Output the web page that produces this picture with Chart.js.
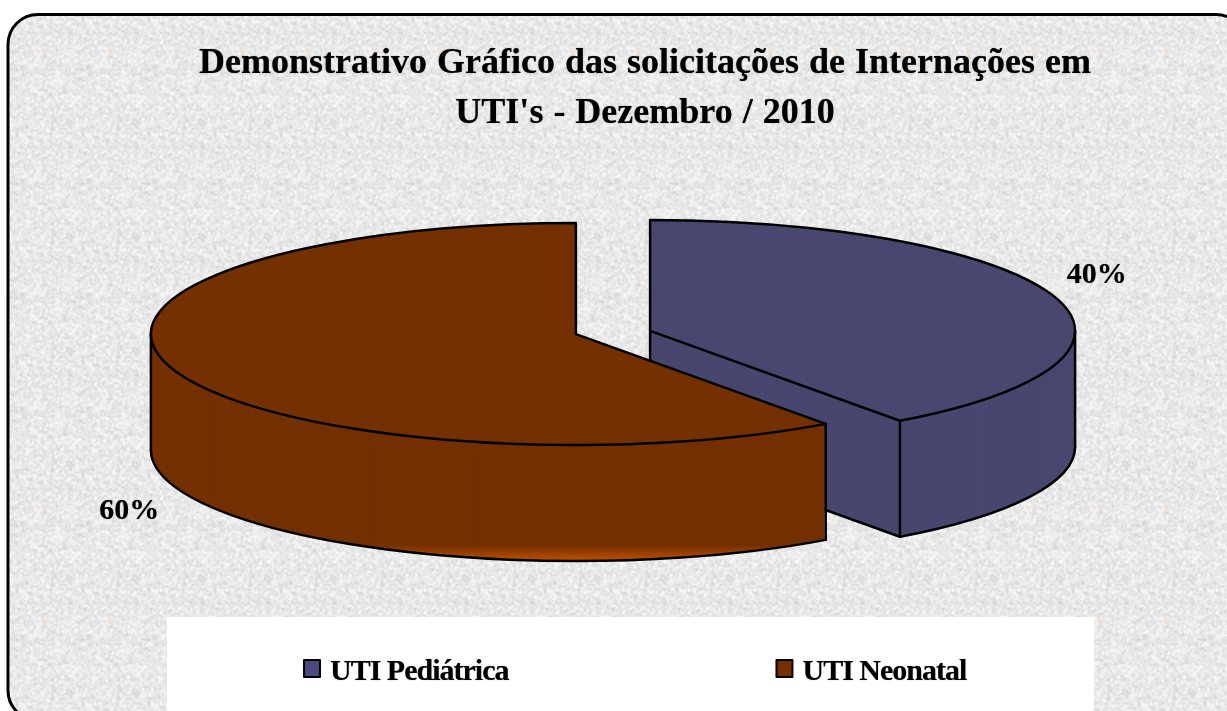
<!DOCTYPE html>
<html>
<head>
<meta charset="utf-8">
<title>UTI</title>
<style>
  html, body { margin: 0; padding: 0; background: #fff; overflow: hidden; }
  canvas { display: block; }
</style>
<script src="https://cdn.jsdelivr.net/npm/chart.js@4"></script>
</head>
<body>
<canvas id="grafico" width="1227" height="711"></canvas>
<script>
const categorias = ["UTI Pediátrica", "UTI Neonatal"];
const valores = [40, 60];
const cores = ["#47476f", "#743000"];
const coresLegenda = ["#4a4a80", "#743000"];
const titulo = ["Demonstrativo Gráfico das solicitações de Internações em", "UTI's - Dezembro / 2010"];

// projecao da pizza "3D"
const CX = 613, CY = 332.5, RX = 425, RY = 111, ALTURA = 116, EXPLODE = 39, EXPLODE_Y = 0.5;
const FONTE = "'Liberation Serif', 'Times New Roman', serif";

// textura de fundo (ladrilho 66x114 com uma marquinha bege)
function criarTextura(ctx) {
  const w = 66, h = 114;
  let seed = 20101;
  const rnd = () => {
    seed = (seed + 0x6D2B79F5) | 0;
    let t = Math.imul(seed ^ (seed >>> 15), 1 | seed);
    t = (t + Math.imul(t ^ (t >>> 7), 61 | t)) ^ t;
    return ((t ^ (t >>> 14)) >>> 0) / 4294967296;
  };
  const ruido = [];
  for (let i = 0; i < w * h; i++) ruido.push(rnd());
  const tile = document.createElement("canvas");
  tile.width = w; tile.height = h;
  const t = tile.getContext("2d");
  const img = t.createImageData(w, h);
  for (let y = 0; y < h; y++) {
    for (let x = 0; x < w; x++) {
      let s = 0;
      for (let dy = -1; dy <= 1; dy++) {
        for (let dx = -1; dx <= 1; dx++) {
          s += ruido[((y + dy + h) % h) * w + ((x + dx + w) % w)];
        }
      }
      const g = Math.max(215, Math.min(246, 233 + (s / 9 - 0.5) * 70));
      const p = (y * w + x) * 4;
      img.data[p] = img.data[p + 1] = img.data[p + 2] = g;
      img.data[p + 3] = 255;
    }
  }
  t.putImageData(img, 0, 0);
  t.fillStyle = "rgba(238,226,212,0.4)";
  t.fillRect(42, 46, 3, 13);
  t.fillRect(38, 50, 10, 3);
  return ctx.createPattern(tile, "repeat");
}

function moverFatia(ctx, el, prof) {
  const meio = (el.startAngle + el.endAngle) / 2;
  ctx.translate(CX + Math.cos(meio) * EXPLODE, CY + Math.sin(meio) * EXPLODE * EXPLODE_Y * RY / RX + prof);
  ctx.scale(RX / el.outerRadius, RY / el.outerRadius);
  ctx.translate(-el.x, -el.y);
}

function ponto(el, ang, raio, prof) {
  const meio = (el.startAngle + el.endAngle) / 2;
  return {
    x: CX + Math.cos(meio) * EXPLODE + Math.cos(ang) * RX * raio,
    y: CY + Math.sin(meio) * EXPLODE * EXPLODE_Y * RY / RX + Math.sin(ang) * RY * raio + prof
  };
}

function linha(ctx, a, b) {
  ctx.beginPath();
  ctx.moveTo(a.x, a.y);
  ctx.lineTo(b.x, b.y);
  ctx.stroke();
}

function contorno(ctx, el) {
  const ini = el.startAngle, fim = el.endAngle;
  ctx.strokeStyle = "#000";
  ctx.lineWidth = 2.5;
  ctx.lineJoin = "round";
  ctx.lineCap = "round";

  // face cortada visivel
  if (Math.cos(fim) > 1e-6) {
    linha(ctx, ponto(el, fim, 0, 0), ponto(el, fim, 0, ALTURA));
    linha(ctx, ponto(el, fim, 0, ALTURA), ponto(el, fim, 1, ALTURA));
  }

  // parede externa
  const a0 = Math.max(ini, 0), a1 = Math.min(fim, Math.PI);
  ctx.save();
  moverFatia(ctx, el, ALTURA);
  ctx.beginPath();
  ctx.arc(el.x, el.y, el.outerRadius, a0, a1);
  ctx.restore();
  ctx.stroke();
  linha(ctx, ponto(el, a0, 1, 0), ponto(el, a0, 1, ALTURA));
  linha(ctx, ponto(el, a1, 1, 0), ponto(el, a1, 1, ALTURA));

  // tampo
  ctx.save();
  moverFatia(ctx, el, 0);
  ctx.beginPath();
  ctx.moveTo(el.x, el.y);
  ctx.arc(el.x, el.y, el.outerRadius, ini, fim);
  ctx.closePath();
  ctx.restore();
  ctx.stroke();
}

function brilhoBase(ctx, el) {
  ctx.save();
  ctx.save();
  moverFatia(ctx, el, ALTURA);
  ctx.beginPath();
  ctx.moveTo(el.x, el.y);
  ctx.arc(el.x, el.y, el.outerRadius, el.startAngle, el.endAngle);
  ctx.closePath();
  ctx.restore();
  ctx.clip();
  const grad = ctx.createLinearGradient(0, 545, 0, 561);
  grad.addColorStop(0, "rgba(190,80,0,0)");
  grad.addColorStop(1, "rgba(190,80,0,1)");
  ctx.fillStyle = grad;
  ctx.fillRect(0, 545, 1227, 20);
  ctx.restore();
}

function textoForte(ctx) {
  ctx.shadowColor = "rgba(0,0,0,0.55)";
  ctx.shadowBlur = 1;
}

const pizza3d = {
  id: "pizza3d",
  beforeLayout(chart) {
    if (chart.$ajustado) return;
    chart.$ajustado = true;
    const ctx = chart.ctx;
    const legenda = chart.legend, bloco = chart.titleBlock;

    const fit = legenda.fit;
    legenda.fit = function () {
      ctx.letterSpacing = "-1px";
      fit.call(this);
      ctx.letterSpacing = "0px";
      this.height = 40;
    };
    const drawLegenda = legenda.draw;
    legenda.draw = function () {
      ctx.save();
      ctx.letterSpacing = "-1px";
      textoForte(ctx);
      drawLegenda.call(this);
      ctx.restore();
    };
    const drawTitulo = bloco.draw;
    bloco.draw = function () {
      ctx.save();
      ctx.wordSpacing = "1px";
      textoForte(ctx);
      drawTitulo.call(this);
      ctx.restore();
    };
  },
  afterLayout(chart) {
    const legenda = chart.legend, bloco = chart.titleBlock;
    const pad = legenda.options.labels.padding;
    legenda.left = 303 - pad;
    legenda.right = 1400;
    legenda.top = 657 - pad;
    bloco.left = 32;
    bloco.right = 1258;
    bloco.top = 39;
    bloco.bottom = bloco.top + bloco.height;
  },
  beforeDraw(chart) {
    const ctx = chart.ctx;
    if (!chart.$textura) chart.$textura = criarTextura(ctx);
    ctx.save();
    ctx.fillStyle = "#fff";
    ctx.fillRect(0, 0, chart.width, chart.height);
    ctx.beginPath();
    ctx.roundRect(8, 14.5, 1238, 706, 30);
    ctx.fillStyle = chart.$textura;
    ctx.fill();
    ctx.fillStyle = "#fff";
    ctx.fillRect(167, 617, 927, 94);
    ctx.strokeStyle = "#000";
    ctx.lineWidth = 3;
    ctx.stroke();
    ctx.restore();
  },
  beforeDatasetsDraw(chart) {
    const ctx = chart.ctx;
    const arcos = chart.getDatasetMeta(0).data;
    arcos.forEach((el, i) => {
      for (let prof = ALTURA; prof >= 0; prof--) {
        ctx.save();
        moverFatia(ctx, el, prof);
        el.draw(ctx);
        ctx.restore();
      }
      if (i === 1) brilhoBase(ctx, el);
      contorno(ctx, el);
    });

    // rotulos de porcentagem
    const total = valores.reduce((a, b) => a + b, 0);
    ctx.save();
    ctx.font = "bold 30px " + FONTE;
    ctx.fillStyle = "#000";
    ctx.textAlign = "center";
    ctx.textBaseline = "middle";
    textoForte(ctx);
    arcos.forEach((el, i) => {
      const meio = (el.startAngle + el.endAngle) / 2;
      const base = ponto(el, meio, 0, Math.sin(meio) > 0 ? ALTURA : 0);
      const x = base.x + Math.cos(meio) * RX * 1.105;
      const y = base.y + Math.sin(meio) * RY * 1.7 + 3;
      ctx.fillText(Math.round(valores[i] / total * 100) + "%", x, y);
    });
    ctx.restore();
    return false;
  },
  afterDraw(chart) {
    // quadradinhos da legenda
    const ctx = chart.ctx;
    ctx.save();
    chart.legend.legendHitBoxes.forEach((box, i) => {
      ctx.fillStyle = coresLegenda[i];
      ctx.strokeStyle = "#000";
      ctx.lineWidth = 2;
      ctx.fillRect(box.left + 1, 660, 16, 17);
      ctx.strokeRect(box.left + 1, 660, 16, 17);
    });
    ctx.restore();
  }
};

new Chart(document.getElementById("grafico").getContext("2d"), {
  type: "pie",
  data: {
    labels: categorias,
    datasets: [{
      data: valores,
      backgroundColor: cores,
      borderWidth: 0
    }]
  },
  options: {
    responsive: false,
    animation: false,
    layout: { padding: 0 },
    plugins: {
      title: {
        display: true,
        text: titulo,
        color: "#000",
        padding: 0,
        font: { family: FONTE, size: 36, weight: "bold", lineHeight: 1.39 }
      },
      legend: {
        position: "bottom",
        align: "start",
        labels: {
          boxWidth: 12,
          padding: 267,
          color: "#000",
          font: { family: FONTE, size: 30, weight: "bold" },
          generateLabels: () => categorias.map((c, i) => ({
            text: c,
            fillStyle: "transparent",
            strokeStyle: "transparent",
            lineWidth: 0,
            index: i
          }))
        }
      },
      tooltip: { enabled: false }
    }
  },
  plugins: [pizza3d]
});
</script>
</body>
</html>
